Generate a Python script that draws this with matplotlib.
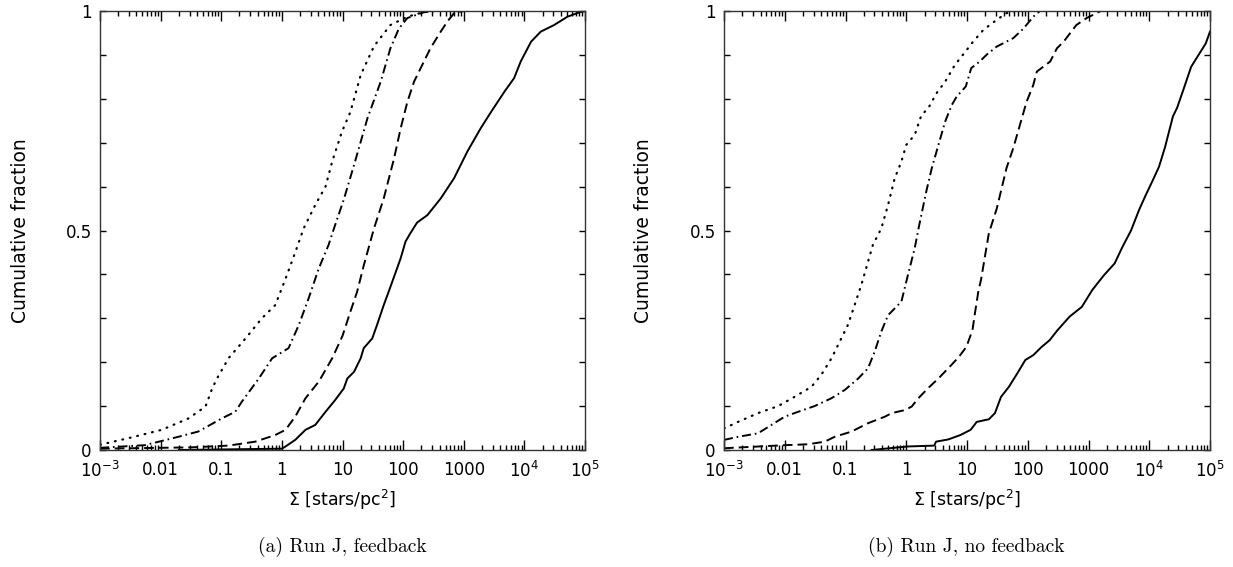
import numpy as np
import matplotlib
matplotlib.use("Agg")
import matplotlib.pyplot as plt
from matplotlib.ticker import FixedLocator, NullFormatter

plt.rcParams["font.family"] = ["DejaVu Sans"]
plt.rcParams["mathtext.fontset"] = "dejavusans"
plt.rcParams["lines.scale_dashes"] = False

# Cumulative distributions of stellar surface density, log10(Sigma) vs fraction
# Run J, feedback
fb_dot_logsig = [-3.0, -2.53, -1.98, -1.54, -1.26, -1.15, -1.07, -0.88, -0.60, -0.33,
                 -0.11, 0.06, 0.22, 0.36, 0.55, 0.72, 0.83, 0.99, 1.13, 1.30,
                 1.52, 1.79, 2.07, 2.40]
fb_dot_frac = [0.012, 0.027, 0.046, 0.072, 0.099, 0.14, 0.163, 0.209, 0.254, 0.30,
               0.33, 0.39, 0.45, 0.505, 0.558, 0.60, 0.657, 0.725, 0.77, 0.854,
               0.92, 0.968, 0.987, 1.0]

fb_dashdot_logsig = [-3.0, -2.26, -1.71, -1.38, -0.99, -0.77, -0.66, -0.38, -0.16, 0.11,
                     0.28, 0.44, 0.61, 0.77, 0.86, 1.02, 1.19, 1.41, 1.63, 1.79,
                     1.93, 2.07, 2.34, 2.55]
fb_dashdot_frac = [0.005, 0.011, 0.03, 0.042, 0.072, 0.087, 0.11, 0.163, 0.209, 0.232,
                   0.285, 0.345, 0.414, 0.467, 0.505, 0.57, 0.649, 0.755, 0.839, 0.915,
                   0.96, 0.984, 0.997, 1.0]

fb_dash_logsig = [-3.0, -1.5, -0.88, -0.44, -0.11, 0.06, 0.22, 0.39, 0.61, 0.83,
                  1.0, 1.13, 1.24, 1.35, 1.46, 1.52, 1.68, 1.85, 1.96, 2.07,
                  2.18, 2.29, 2.45, 2.62, 2.73, 2.84, 3.0]
fb_dash_frac = [0.003, 0.006, 0.01, 0.019, 0.034, 0.046, 0.076, 0.118, 0.156, 0.209,
                0.26, 0.315, 0.36, 0.42, 0.475, 0.505, 0.573, 0.664, 0.733, 0.793,
                0.839, 0.87, 0.915, 0.953, 0.976, 0.995, 1.0]

fb_solid_logsig = [-1.7, 0.0, 0.06, 0.22, 0.39, 0.55, 0.72, 0.88, 1.02, 1.08,
                   1.19, 1.30, 1.35, 1.49, 1.57, 1.68, 1.76, 1.88, 1.96, 2.04,
                   2.12, 2.23, 2.40, 2.62, 2.84, 3.06, 3.28, 3.45, 3.67, 3.83,
                   3.94, 4.11, 4.27, 4.49, 4.71, 4.93, 5.0]
fb_solid_frac = [0.0, 0.003, 0.008, 0.023, 0.046, 0.057, 0.087, 0.114, 0.14, 0.163,
                 0.178, 0.209, 0.232, 0.254, 0.285, 0.33, 0.36, 0.406, 0.437, 0.475,
                 0.494, 0.518, 0.535, 0.573, 0.619, 0.68, 0.733, 0.77, 0.816, 0.847,
                 0.885, 0.93, 0.953, 0.968, 0.987, 0.998, 1.0]

# Run J, no feedback
nf_dot_logsig = [-3.0, -2.77, -2.44, -2.11, -1.84, -1.56, -1.40, -1.23, -1.07, -0.96,
                 -0.85, -0.74, -0.66, -0.55, -0.41, -0.30, -0.19, -0.08, 0.0, 0.14,
                 0.25, 0.36, 0.50, 0.64, 0.80, 0.96, 1.10, 1.27, 1.49, 1.65, 1.8]
nf_dot_frac = [0.049, 0.064, 0.084, 0.10, 0.121, 0.144, 0.171, 0.209, 0.254, 0.285,
               0.33, 0.376, 0.414, 0.467, 0.505, 0.558, 0.619, 0.657, 0.695, 0.718,
               0.763, 0.778, 0.813, 0.839, 0.877, 0.905, 0.93, 0.957, 0.98, 0.995, 1.0]

nf_dashdot_logsig = [-3.0, -2.77, -2.44, -2.22, -2.0, -1.78, -1.51, -1.23, -1.01, -0.79,
                     -0.63, -0.52, -0.41, -0.30, -0.08, 0.03, 0.14, 0.21, 0.33, 0.42,
                     0.53, 0.64, 0.75, 0.83, 0.98, 1.07, 1.21, 1.32, 1.49, 1.76,
                     1.93, 2.09, 2.20]
nf_dashdot_frac = [0.023, 0.03, 0.038, 0.057, 0.076, 0.087, 0.10, 0.118, 0.137, 0.163,
                   0.186, 0.224, 0.27, 0.307, 0.338, 0.40, 0.46, 0.51, 0.589, 0.642,
                   0.695, 0.748, 0.786, 0.805, 0.828, 0.87, 0.885, 0.90, 0.919, 0.938,
                   0.96, 0.987, 1.0]

nf_dash_logsig = [-3.0, -2.0, -1.62, -1.34, -1.18, -0.90, -0.63, -0.35, -0.24, -0.02,
                  0.09, 0.20, 0.36, 0.53, 0.69, 0.86, 0.99, 1.09, 1.13, 1.19,
                  1.23, 1.36, 1.49, 1.65, 1.76, 1.87, 1.98, 2.09, 2.15, 2.37,
                  2.48, 2.59, 2.80, 2.97, 3.13, 3.2]
nf_dash_frac = [0.004, 0.011, 0.013, 0.019, 0.03, 0.042, 0.061, 0.076, 0.084, 0.091,
                0.099, 0.118, 0.141, 0.163, 0.186, 0.211, 0.235, 0.273, 0.311, 0.364,
                0.387, 0.494, 0.55, 0.642, 0.687, 0.74, 0.793, 0.831, 0.862, 0.885,
                0.915, 0.93, 0.968, 0.984, 0.995, 1.0]

nf_solid_logsig = [-0.57, 0.02, 0.46, 0.49, 0.69, 0.89, 1.06, 1.16, 1.36, 1.46,
                   1.56, 1.69, 1.83, 1.96, 2.09, 2.23, 2.36, 2.49, 2.69, 2.89,
                   3.06, 3.19, 3.26, 3.43, 3.56, 3.70, 3.83, 3.93, 4.06, 4.16,
                   4.26, 4.39, 4.46, 4.56, 4.69, 4.83, 4.93, 5.0]
nf_solid_frac = [0.0, 0.008, 0.01, 0.019, 0.024, 0.034, 0.046, 0.064, 0.07, 0.084,
                 0.121, 0.144, 0.175, 0.205, 0.216, 0.235, 0.25, 0.273, 0.304, 0.326,
                 0.364, 0.387, 0.399, 0.425, 0.463, 0.50, 0.546, 0.577, 0.615, 0.645,
                 0.69, 0.76, 0.78, 0.82, 0.873, 0.904, 0.926, 0.953]

xtick_values = [1e-3, 1e-2, 1e-1, 1, 10, 100, 1000, 1e4, 1e5]
xtick_labels = [r"$10^{-3}$", "0.01", "0.1", "1", "10", "100", "1000",
                r"$10^{4}$", r"$10^{5}$"]
ytick_values = [0, 0.5, 1]
ytick_labels = ["0", "0.5", "1"]
captions = ["(a) Run J, feedback", "(b) Run J, no feedback"]

styles = {
    "dot": dict(linestyle=(0, (0.6, 4.9)), dash_capstyle="round", lw=1.6),
    "dashdot": dict(linestyle=(0, (6.5, 2.8, 1.2, 2.8)), lw=1.4),
    "dash": dict(linestyle=(0, (7.0, 3.6)), lw=1.4),
    "solid": dict(linestyle="-", lw=1.4),
}

panels = [
    [("dot", fb_dot_logsig, fb_dot_frac), ("dashdot", fb_dashdot_logsig, fb_dashdot_frac),
     ("dash", fb_dash_logsig, fb_dash_frac), ("solid", fb_solid_logsig, fb_solid_frac)],
    [("dot", nf_dot_logsig, nf_dot_frac), ("dashdot", nf_dashdot_logsig, nf_dashdot_frac),
     ("dash", nf_dash_logsig, nf_dash_frac), ("solid", nf_solid_logsig, nf_solid_frac)],
]

W, H = 1233, 567
fig = plt.figure(figsize=(W / 100, H / 100), dpi=100)
ax_boxes = [(100, 11, 585, 450), (724, 11, 1210, 450)]
ylabel_x = [30, 653]
caption_x = [342, 966]

minor_x = [m * 10.0 ** e for e in range(-3, 5) for m in range(2, 10)]
minor_y = [0.1, 0.2, 0.3, 0.4, 0.6, 0.7, 0.8, 0.9]

for i, (box, curves) in enumerate(zip(ax_boxes, panels)):
    x0, y0, x1, y1 = box
    ax = fig.add_axes([x0 / W, 1 - y1 / H, (x1 - x0) / W, (y1 - y0) / H])
    for key, logsig, frac in curves:
        ax.plot(10.0 ** np.asarray(logsig), frac, color="black", **styles[key])
    ax.set_xscale("log")
    ax.set_xlim(1e-3, 1e5)
    ax.set_ylim(0, 1)

    ax.xaxis.set_major_locator(FixedLocator(xtick_values))
    ax.set_xticklabels(xtick_labels)
    ax.xaxis.set_minor_locator(FixedLocator(minor_x))
    ax.xaxis.set_minor_formatter(NullFormatter())
    ax.yaxis.set_major_locator(FixedLocator(ytick_values))
    ax.set_yticklabels(ytick_labels)
    ax.yaxis.set_minor_locator(FixedLocator(minor_y))

    ax.tick_params(which="both", direction="in", top=True, right=True,
                   labelsize=12, width=1.0, color="black")
    ax.tick_params(axis="x", which="major", length=7, pad=8)
    ax.tick_params(axis="x", which="minor", length=3.5)
    ax.tick_params(axis="y", which="both", length=4.5, pad=6)
    for sp in ax.spines.values():
        sp.set_linewidth(1.0)
        sp.set_color("#333333")

    ax.set_ylabel("Cumulative fraction", fontsize=13.5)
    ax.yaxis.set_label_coords((ylabel_x[i] - x0) / (x1 - x0), 0.5)
    ax.set_xlabel(r"$\Sigma$ [stars/pc$^{2}$]", fontsize=12.5)
    ax.xaxis.set_label_coords(0.5, -(488 - y1) / (y1 - y0))

    fig.text(caption_x[i] / W, 1 - 547 / H, captions[i], fontsize=14,
             fontname="cmr10", ha="center", va="center")

fig.savefig("out.png", dpi=100)
